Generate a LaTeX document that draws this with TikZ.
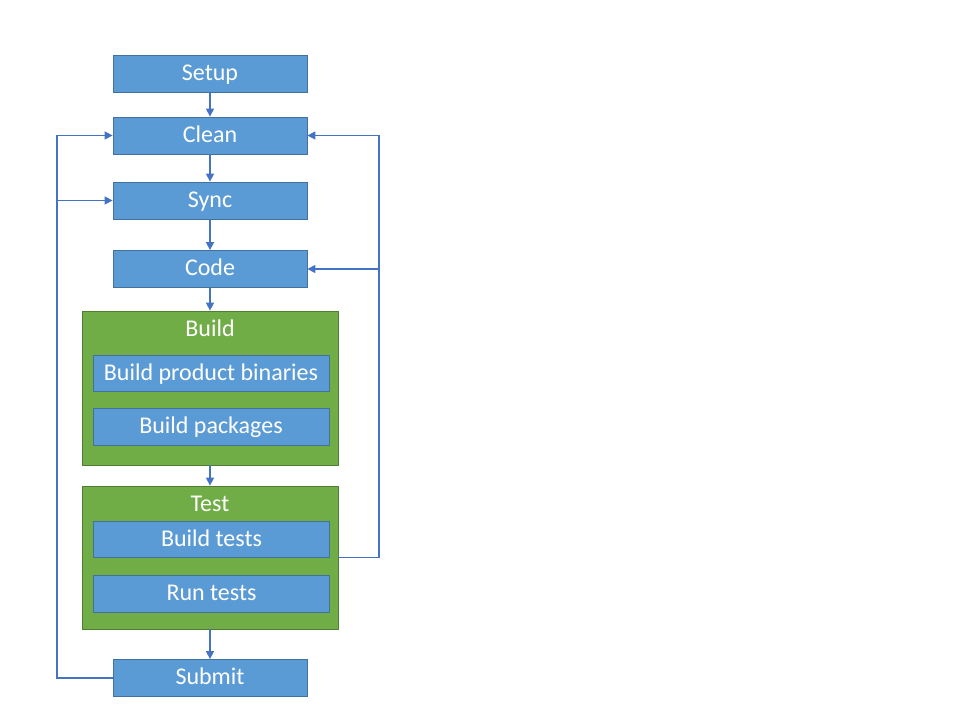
\documentclass[tikz,border=0pt]{standalone}
\usepackage{fontspec}
\setmainfont{Carlito}
\usetikzlibrary{arrows.meta}
\definecolor{boxblue}{HTML}{5B9BD5}
\definecolor{boxblueline}{HTML}{41719C}
\definecolor{boxgreen}{HTML}{70AD47}
\definecolor{boxgreenline}{HTML}{507E32}
\definecolor{linkblue}{HTML}{4472C4}
\tikzset{
  stepbox/.style={draw=boxblueline,fill=boxblue,text=white,line width=0.6pt,
    minimum width=145.5pt,minimum height=27.75pt,inner sep=0pt,
    text height=11pt,text depth=1pt,
    font=\fontsize{18}{21}\selectfont},
  subbox/.style={stepbox,minimum width=177pt,minimum height=27.5pt},
  groupbox/.style={draw=boxgreenline,fill=boxgreen,line width=0.6pt,
    minimum width=192pt,inner sep=0pt},
  grouptext/.style={text=white,inner sep=0pt,text height=11pt,text depth=1pt,
    font=\fontsize{18}{21}\selectfont},
  link/.style={draw=linkblue,line width=1.1pt,-{Triangle[length=6pt,width=6pt]}}
}
\begin{document}
\begin{tikzpicture}[x=0.75pt,y=-0.75pt]
\useasboundingbox (0,0) rectangle (960,720);
% main column
\node[stepbox] (setup) at (210,74) {Setup};
\node[stepbox] (clean) at (210,135.5) {Clean};
\node[stepbox] (sync) at (210,200.5) {Sync};
\node[stepbox] (code) at (210,269) {Code};
% build group
\node[groupbox,minimum height=115.5pt] (build) at (210,388) {};
\node[grouptext] (buildlbl) at (210,330) {Build};
\node[subbox] (binaries) at (211,373.5) {Build product binaries};
\node[subbox] (packages) at (211,427) {Build packages};
% test group
\node[groupbox,minimum height=107.25pt] (test) at (210,557.5) {};
\node[grouptext] (testlbl) at (210,505) {Test};
\node[subbox] (btests) at (211.5,539.5) {Build tests};
\node[subbox] (rtests) at (211.5,594) {Run tests};
\node[stepbox] (submit) at (210,678) {Submit};
% straight links
\draw[link] (setup) -- (clean);
\draw[link] (clean) -- (sync);
\draw[link] (sync) -- (code);
\draw[link] (code) -- (build);
\draw[link] (build) -- (test);
\draw[link] (test) -- (submit);
% loops
\coordinate (lft) at (57,0);
\coordinate (rgt) at (379,0);
\draw[link] (submit.west) -| (lft |- clean.west) -- (clean.west);
\draw[link] (lft |- sync.west) -- (sync.west);
\draw[link] (test.east) -| (rgt |- clean.east) -- (clean.east);
\draw[link] (rgt |- code.east) -- (code.east);
\end{tikzpicture}
\end{document}
